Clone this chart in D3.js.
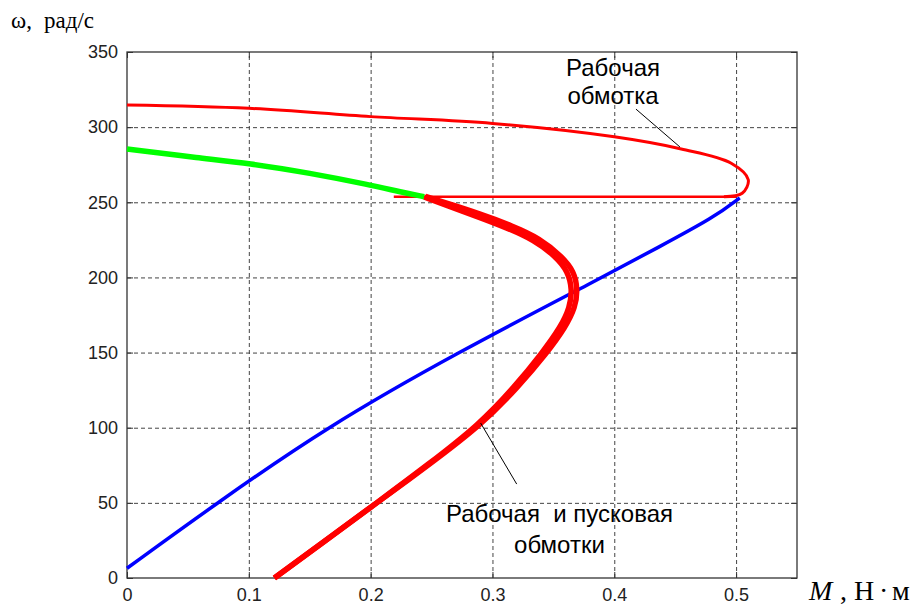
<!DOCTYPE html>
<html>
<head>
<meta charset="utf-8">
<script src="https://cdn.jsdelivr.net/npm/d3@7"></script>
<style>
  body { margin: 0; background: #fff; }
  .grid line { stroke: #444; stroke-dasharray: 4,3; }
  .grid path { display: none; }
  .axis path { display: none; }
  .axis line { stroke: #333; }
  .axis text { font-family: "Liberation Sans", Arial, sans-serif; font-size: 18px; fill: #222; }
</style>
</head>
<body>
<script>
var width = 922,
    height = 607;

// axis ticks
var xTicks = [0, 0.1, 0.2, 0.3, 0.4, 0.5],
    yTicks = [0, 50, 100, 150, 200, 250, 300, 350];

// blue curve
var blueM = [0, 0.074, 0.163, 0.271, 0.39, 0.436, 0.482, 0.503],
    blueW = [6.5, 50, 100, 150, 200, 220, 240, 253];

// thick red curve (рабочая и пусковая обмотки), drawn as two close lines
var redInM = [0.121, 0.163, 0.205, 0.248, 0.289, 0.318, 0.341, 0.356, 0.3635, 0.3655, 0.362, 0.352, 0.334, 0.312, 0.286, 0.262, 0.244],
    redInW = [0, 25, 50, 76, 102, 127, 150, 167, 180, 192, 204, 214, 225, 233, 241, 248, 253.5];
var redOutM = [0.121, 0.163, 0.205, 0.249, 0.291, 0.321, 0.345, 0.36, 0.368, 0.37, 0.367, 0.357, 0.339, 0.316, 0.289, 0.264, 0.245],
    redOutW = [0, 25, 50, 76, 102, 127, 150, 167, 180, 192, 204, 214, 226, 234.5, 242.5, 249, 254];

// green curve
var greenM = [0, 0.06, 0.1, 0.15, 0.2, 0.224, 0.244],
    greenW = [285.4, 279.4, 276, 269.5, 261.5, 257, 253.7];

// thin red curve (рабочая обмотка)
var redMainM = [0, 0.1, 0.2, 0.3, 0.4, 0.455, 0.496, 0.51, 0.505, 0.49],
    redMainW = [314.7, 312.5, 307, 302.5, 293.6, 285.5, 276, 265, 256, 253.7];

// horizontal red jump
var redJumpM = [0.5, 0.219],
    redJumpW = [253.7, 253.7];

// annotations
var labelTexts = [["Рабочая", "обмотка"], ["Рабочая  и пусковая", "обмотки"]],
    labelM = [0.399, 0.355],
    labelW = [[334, 315.4], [37.5, 16.6]],
    pointerM = [[0.4178, 0.4539], [0.3199, 0.2903]],
    pointerW = [[312, 286.8], [62.5, 103.1]];

var margin = {left: 127, top: 52, right: 125, bottom: 29};
var x = d3.scaleLinear().domain([0, 0.55]).range([margin.left, width - margin.right]);
var y = d3.scaleLinear().domain([0, 350]).range([height - margin.bottom, margin.top]);

var svg = d3.select("body").append("svg")
    .attr("width", width)
    .attr("height", height);

svg.append("rect").attr("width", width).attr("height", height).attr("fill", "#fff");

// grid
svg.append("g")
    .attr("class", "grid")
    .attr("transform", "translate(0," + y(0) + ")")
    .call(d3.axisBottom(x).tickValues(xTicks.slice(1)).tickSize(-(y(0) - y(350))).tickFormat(""));
svg.append("g")
    .attr("class", "grid")
    .attr("transform", "translate(" + x(0) + ",0)")
    .call(d3.axisLeft(y).tickValues(yTicks.slice(1, -1)).tickSize(-(x(0.55) - x(0))).tickFormat(""));

// axes with inward ticks
svg.append("g").attr("class", "axis")
    .attr("transform", "translate(0," + y(0) + ")")
    .call(d3.axisBottom(x).tickValues(xTicks).tickSize(-6).tickPadding(10).tickFormat(d3.format("")));
svg.append("g").attr("class", "axis")
    .attr("transform", "translate(0," + y(350) + ")")
    .call(d3.axisTop(x).tickValues(xTicks).tickSize(-6).tickFormat(""));
svg.append("g").attr("class", "axis")
    .attr("transform", "translate(" + x(0) + ",0)")
    .call(d3.axisLeft(y).tickValues(yTicks).tickSize(-6).tickPadding(9));
svg.append("g").attr("class", "axis")
    .attr("transform", "translate(" + x(0.55) + ",0)")
    .call(d3.axisRight(y).tickValues(yTicks).tickSize(-6).tickFormat(""));

// box
svg.append("rect")
    .attr("x", x(0)).attr("y", y(350))
    .attr("width", x(0.55) - x(0)).attr("height", y(0) - y(350))
    .attr("fill", "none").attr("stroke", "#333").attr("stroke-width", 1.3);

function draw(ms, ws, color, w, curve) {
  var line = d3.line()
      .x(function(d) { return x(d[0]); })
      .y(function(d) { return y(d[1]); })
      .curve(curve || d3.curveBasis);
  svg.append("path")
      .attr("fill", "none")
      .attr("stroke", color)
      .attr("stroke-width", w)
      .attr("stroke-linejoin", "round")
      .attr("d", line(d3.zip(ms, ws)));
}

draw(redJumpM, redJumpW, "#ff0000", 2.5, d3.curveLinear);
draw(redMainM, redMainW, "#ff0000", 3, d3.curveCatmullRom.alpha(0.5));
draw(greenM, greenW, "#00ff00", 5.5);
draw(blueM, blueW, "#0000ff", 3.5);
draw(redInM, redInW, "#ff0000", 5.5);
draw(redOutM, redOutW, "#ff0000", 5.5);

// pointers and labels
pointerM.forEach(function(pm, i) {
  svg.append("line")
      .attr("x1", x(pm[0])).attr("y1", y(pointerW[i][0]))
      .attr("x2", x(pm[1])).attr("y2", y(pointerW[i][1]))
      .attr("stroke", "#000").attr("stroke-width", 1);
});
labelTexts.forEach(function(lines, i) {
  lines.forEach(function(t, j) {
    svg.append("text")
        .attr("x", x(labelM[i])).attr("y", y(labelW[i][j]))
        .attr("text-anchor", "middle")
        .attr("font-family", "Liberation Sans, Arial, sans-serif")
        .attr("font-size", 24)
        .style("white-space", "pre")
        .text(t);
  });
});

// axis titles
var yt = svg.append("text")
    .attr("y", 28)
    .attr("font-family", "Liberation Serif, Times New Roman, serif")
    .attr("font-size", 23);
yt.append("tspan").attr("x", 11).text("ω,");
yt.append("tspan").attr("x", 44).text("рад/с");

var xt = svg.append("text")
    .attr("y", 600)
    .attr("font-family", "Liberation Serif, Times New Roman, serif")
    .attr("font-size", 28);
xt.append("tspan").attr("x", 809).attr("font-style", "italic").text("M");
xt.append("tspan").attr("x", 840).text(",");
xt.append("tspan").attr("x", 854).text("Н");
xt.append("tspan").attr("x", 879).text("·");
xt.append("tspan").attr("x", 892).text("м");
</script>
</body>
</html>
